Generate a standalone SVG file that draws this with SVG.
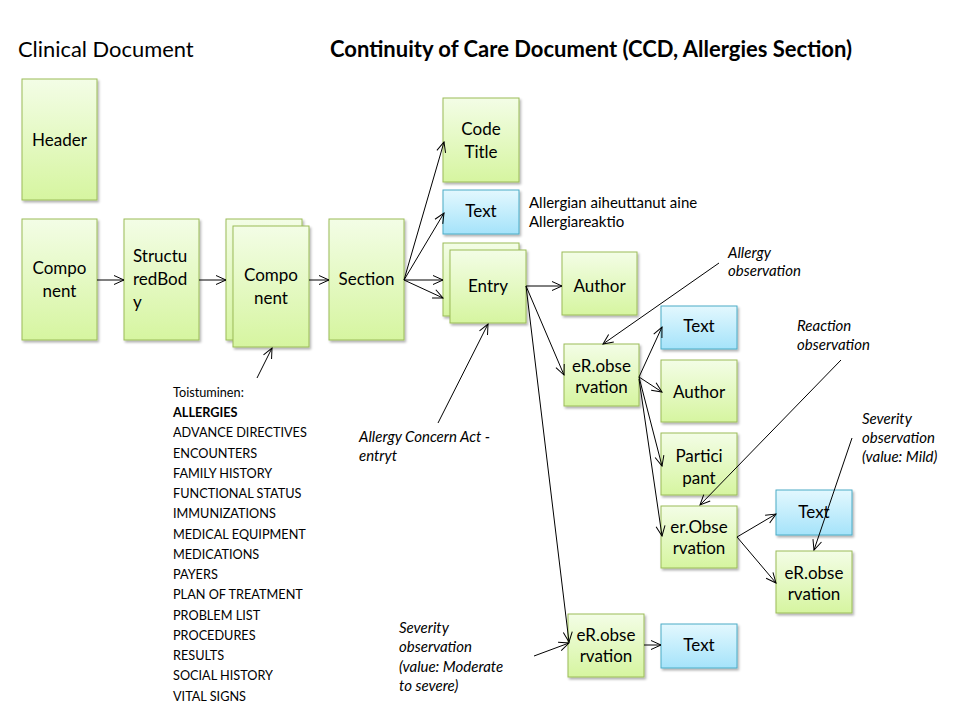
<svg xmlns="http://www.w3.org/2000/svg" width="960" height="720" viewBox="0 0 960 720">
<defs>
<linearGradient id="gG" x1="0" y1="0" x2="0" y2="1">
<stop offset="0" stop-color="#f3fde6"/>
<stop offset="1" stop-color="#d6f5a0"/>
</linearGradient>
<linearGradient id="gB" x1="0" y1="0" x2="0" y2="1">
<stop offset="0" stop-color="#e3f8fe"/>
<stop offset="1" stop-color="#a5e3fa"/>
</linearGradient>
<filter id="sh" x="-10%" y="-10%" width="130%" height="130%">
<feDropShadow dx="1.5" dy="2" stdDeviation="1.2" flood-color="#000" flood-opacity="0.3"/>
</filter>
<marker id="ar" markerUnits="userSpaceOnUse" markerWidth="12" markerHeight="12" refX="11" refY="6" orient="auto">
<path d="M1,1.5 L11,6 L1,10.5" fill="none" stroke="#000" stroke-width="1"/>
</marker>
<style>
.g{fill:url(#gG);stroke:#9bbb59;stroke-width:1;filter:url(#sh)}
.b{fill:url(#gB);stroke:#4bacc6;stroke-width:1;filter:url(#sh)}
.t{font-family:Lato,"Liberation Sans",sans-serif;font-size:17px;fill:#000;text-anchor:middle}
.tl{font-family:Lato,"Liberation Sans",sans-serif;font-size:17px;fill:#000}
.s{font-family:Lato,"Liberation Sans",sans-serif;font-size:12.7px;fill:#000}
.n{font-family:Lato,"Liberation Sans",sans-serif;font-size:15px;fill:#000}
.i{font-family:Lato,"Liberation Sans",sans-serif;font-size:15px;font-style:italic;fill:#000}
.c line,.c path{stroke:#000;stroke-width:1;fill:none;marker-end:url(#ar)}
</style>
</defs>
<rect width="960" height="720" fill="#fff"/>
<text x="18" y="57" font-family="Lato,'Liberation Sans',sans-serif" font-size="21.9px">Clinical Document</text>
<text x="330" y="57" font-family="Lato,'Liberation Sans',sans-serif" font-size="22px" font-weight="bold">Continuity of Care Document (CCD, Allergies Section)</text>

<g id="header"><rect class="g" x="22" y="79" width="75" height="121"/><text class="t" x="59.5" y="146">Header</text></g>
<g id="component1"><rect class="g" x="22" y="219" width="75" height="121"/><text class="t" x="59.5" y="274">Compo</text><text class="t" x="59.5" y="297">nent</text></g>
<g id="structuredbody"><rect class="g" x="124" y="219" width="75" height="121"/><text class="tl" x="133" y="262">Structu</text><text class="tl" x="133" y="285">redBod</text><text class="tl" x="133" y="308">y</text></g>
<g id="component2"><rect class="g" x="226" y="219" width="76" height="121"/><rect class="g" x="233" y="226" width="76" height="121"/><text class="t" x="271" y="281">Compo</text><text class="t" x="271" y="304">nent</text></g>
<g id="section"><rect class="g" x="329" y="219" width="75" height="121"/><text class="t" x="366.5" y="285">Section</text></g>
<g id="codetitle"><rect class="g" x="443" y="98" width="76" height="84"/><text class="t" x="481" y="135">Code</text><text class="t" x="481" y="158">Title</text></g>
<g id="text1"><rect class="b" x="443" y="190" width="76" height="44"/><text class="t" x="481" y="217">Text</text></g>
<g id="entry"><rect class="g" x="443" y="243" width="76" height="73"/><rect class="g" x="450" y="250" width="76" height="73"/><text class="t" x="488" y="292">Entry</text></g>
<g id="author1"><rect class="g" x="562" y="252" width="75" height="63"/><text class="t" x="599.5" y="292">Author</text></g>
<g id="erobs1"><rect class="g" x="564" y="344" width="75" height="62"/><text class="t" x="601.5" y="372">eR.obse</text><text class="t" x="601.5" y="393">rvation</text></g>
<g id="text2"><rect class="b" x="661" y="306" width="76" height="43"/><text class="t" x="699" y="332">Text</text></g>
<g id="author2"><rect class="g" x="661" y="360" width="76" height="62"/><text class="t" x="699" y="398">Author</text></g>
<g id="participant"><rect class="g" x="661" y="433" width="76" height="62"/><text class="t" x="699" y="462">Partici</text><text class="t" x="699" y="484">pant</text></g>
<g id="erobs2"><rect class="g" x="661" y="506" width="76" height="62"/><text class="t" x="699" y="533">er.Obse</text><text class="t" x="699" y="554">rvation</text></g>
<g id="text3"><rect class="b" x="776" y="490" width="76" height="45"/><text class="t" x="814" y="518">Text</text></g>
<g id="erobs3"><rect class="g" x="776" y="551" width="76" height="62"/><text class="t" x="814" y="579">eR.obse</text><text class="t" x="814" y="600">rvation</text></g>
<g id="erobs4"><rect class="g" x="568" y="614" width="76" height="63"/><text class="t" x="606" y="641">eR.obse</text><text class="t" x="606" y="662">rvation</text></g>
<g id="text4"><rect class="b" x="661" y="624" width="76" height="44"/><text class="t" x="699" y="651">Text</text></g>

<g id="notes">
<text class="n" x="529" y="208">Allergian aiheuttanut aine</text>
<text class="n" x="529" y="227">Allergiareaktio</text>
<text class="i" x="728" y="258">Allergy</text>
<text class="i" x="728" y="276">observation</text>
<text class="i" x="797" y="331">Reaction</text>
<text class="i" x="797" y="350">observation</text>
<text class="i" x="862" y="424">Severity</text>
<text class="i" x="862" y="443">observation</text>
<text class="i" x="862" y="462">(value: Mild)</text>
<text class="i" x="359" y="442">Allergy Concern Act -</text>
<text class="i" x="359" y="461">entryt</text>
<text class="i" x="399" y="633">Severity</text>
<text class="i" x="399" y="652">observation</text>
<text class="i" x="399" y="672">(value: Moderate</text>
<text class="i" x="399" y="691">to severe)</text>
<text class="s" x="173" y="397">Toistuminen:</text>
<text class="s" x="173" y="417" font-weight="bold">ALLERGIES</text>
<text class="s" x="173" y="437">ADVANCE DIRECTIVES</text>
<text class="s" x="173" y="458">ENCOUNTERS</text>
<text class="s" x="173" y="478">FAMILY HISTORY</text>
<text class="s" x="173" y="498">FUNCTIONAL STATUS</text>
<text class="s" x="173" y="518">IMMUNIZATIONS</text>
<text class="s" x="173" y="539">MEDICAL EQUIPMENT</text>
<text class="s" x="173" y="559">MEDICATIONS</text>
<text class="s" x="173" y="579">PAYERS</text>
<text class="s" x="173" y="599">PLAN OF TREATMENT</text>
<text class="s" x="173" y="620">PROBLEM LIST</text>
<text class="s" x="173" y="640">PROCEDURES</text>
<text class="s" x="173" y="660">RESULTS</text>
<text class="s" x="173" y="680">SOCIAL HISTORY</text>
<text class="s" x="173" y="701">VITAL SIGNS</text>
</g>

<g id="connectors" class="c">
<line x1="97" y1="280" x2="124" y2="280"/>
<line x1="199" y1="280" x2="226" y2="280"/>
<line x1="309" y1="280" x2="329" y2="280"/>
<line x1="404" y1="280" x2="444" y2="142"/>
<line x1="404" y1="280" x2="444" y2="213"/>
<line x1="404" y1="280" x2="443" y2="280"/>
<line x1="404" y1="280" x2="443" y2="298"/>
<line x1="526" y1="286" x2="562" y2="286"/>
<line x1="526" y1="286" x2="564" y2="375"/>
<line x1="526" y1="286" x2="569" y2="642"/>
<line x1="639" y1="377" x2="662" y2="327"/>
<line x1="639" y1="377" x2="662" y2="392"/>
<line x1="639" y1="377" x2="662" y2="466"/>
<line x1="639" y1="379" x2="662" y2="536"/>
<line x1="737" y1="537" x2="776" y2="514"/>
<line x1="737" y1="537" x2="776" y2="583"/>
<line x1="644" y1="645" x2="661" y2="645"/>
<line x1="719" y1="263" x2="603" y2="344"/>
<line x1="841" y1="360" x2="700" y2="505"/>
<line x1="852" y1="438" x2="814" y2="550"/>
<line x1="438" y1="423" x2="488" y2="324"/>
<line x1="257" y1="378" x2="272" y2="348"/>
<line x1="534" y1="656" x2="569" y2="643"/>
</g>
</svg>
